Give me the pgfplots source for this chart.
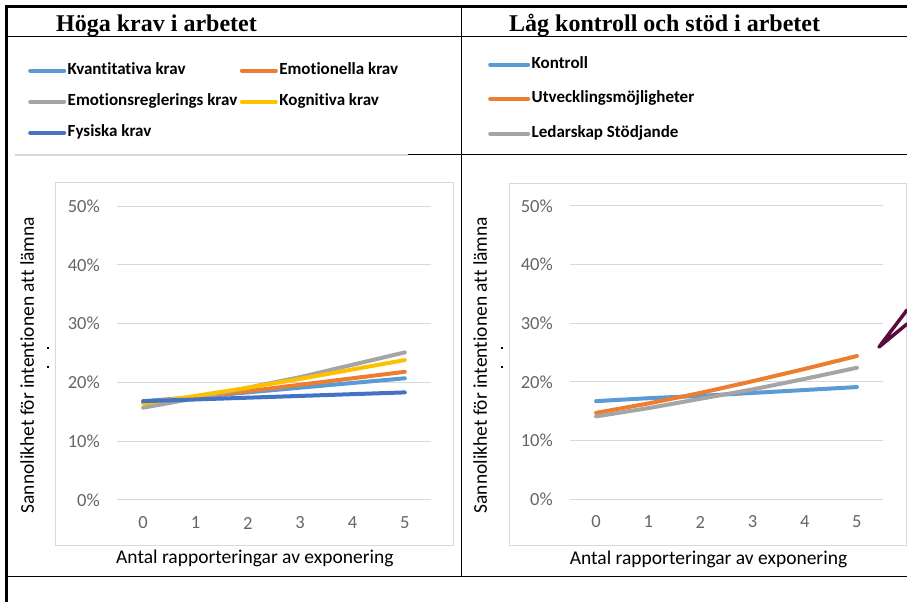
\documentclass[border=0pt]{standalone}
\usepackage{fontspec}
\setmainfont{Carlito}[Ligatures=NoCommon]
\newfontfamily\headfont{Liberation Serif}
\usepackage{pgfplots}
\pgfplotsset{compat=1.18}

\definecolor{xlblue}{HTML}{5B9BD5}
\definecolor{xlorange}{HTML}{ED7D31}
\definecolor{xlgray}{HTML}{A5A5A5}
\definecolor{xlyellow}{HTML}{FFC000}
\definecolor{xldblue}{HTML}{4472C4}
\definecolor{gridgray}{HTML}{D9D9D9}
\definecolor{ticktext}{HTML}{656565}
\definecolor{plum}{RGB}{92,12,58}

% Predicted probability (%) of intention to leave, by number of reported exposures
\pgfplotstableread{
x  kvant  emot  emreg  kogn  fys
0  16.8   16.5  15.7   16.4  16.8
1  17.5   17.5  17.3   17.7  17.1
2  18.3   18.5  19.1   19.1  17.4
3  19.1   19.6  20.9   20.6  17.7
4  19.9   20.7  23.0   22.2  18.0
5  20.7   21.8  25.1   23.8  18.3
}\hogakrav

\pgfplotstableread{
x  kontroll  utveckl  ledarskap
0  16.7      14.7     14.1
1  17.2      16.3     15.5
2  17.6      18.1     17.1
3  18.1      20.1     18.7
4  18.6      22.2     20.5
5  19.1      24.4     22.4
}\lagkontroll

\pgfplotsset{
  excelchart/.style={
    scale only axis,
    xmin=-0.5, xmax=5.5, ymin=0, ymax=50,
    xtick={0,...,5}, ytick={0,10,...,50},
    axis line style={draw=none},
    major tick length=0pt,
    ymajorgrids,
    grid style={gridgray, line width=1bp},
    /pgf/number format/assume math mode=true,
    tick label style={font=\fontsize{18.5bp}{21bp}\selectfont, text=ticktext, inner sep=0pt},
    xticklabel style={anchor=center, yshift=-23bp},
    yticklabel style={anchor=east, xshift=-17bp},
    yticklabel={\pgfmathprintnumber{\tick}\%},
    label style={font=\fontsize{19.5bp}{22bp}\selectfont},
    xlabel={Antal rapporteringar av exponering},
    ylabel={Sannolikhet för intentionen att lämna},
    every axis plot/.append style={line width=4bp, line cap=round, line join=round, mark=none},
    legend cell align=left,
    clip=false,
  },
}

\begin{document}
\begin{tikzpicture}
\path[use as bounding box] (0,0) rectangle (907bp,602bp);

% chart area frames
\begin{scope}[x=1bp,y=1bp]
  \draw[gridgray, line width=1bp] (55,56) rectangle (453,419);
  \draw[gridgray, line width=1bp] (509,56) rectangle (906,418);
\end{scope}

% left: high demands at work
\begin{axis}[excelchart,
  at={(117bp,102bp)}, anchor=south west,
  width=314bp, height=294bp,
  xlabel style={at={(axis description cs:0.439,-0.200)}, anchor=center},
  ylabel style={at={(axis description cs:-0.286,0.459)}, anchor=center, rotate=0},
  legend columns=2,
  legend image code/.code={\draw[#1, line width=4bp, line cap=round] (2bp,0bp) -- (36bp,0bp);},
  legend style={at={(axis description cs:-0.2834,1.4932)}, anchor=north west,
    draw=none, fill=none, inner sep=0pt, row sep=12bp,
    font=\bfseries\fontsize{17bp}{19bp}\selectfont,
    nodes={inner xsep=1.5bp, inner ysep=2bp, text height=11bp, text depth=4bp},
    /tikz/every even column/.append style={column sep=1bp}},
]
\addplot[xlblue]   table[x=x, y=kvant] {\hogakrav};
\addlegendentry{Kvantitativa krav}
\addplot[xlorange] table[x=x, y=emot]  {\hogakrav};
\addlegendentry{Emotionella krav}
\addplot[xlgray]   table[x=x, y=emreg] {\hogakrav};
\addlegendentry{Emotionsreglerings krav}
\addplot[xlyellow] table[x=x, y=kogn]  {\hogakrav};
\addlegendentry{Kognitiva krav}
\addplot[xldblue]  table[x=x, y=fys]   {\hogakrav};
\addlegendentry{Fysiska krav}
\end{axis}

% right: low control and support at work
\begin{axis}[excelchart,
  at={(570bp,103bp)}, anchor=south west,
  width=313bp, height=293bp,
  xlabel style={at={(axis description cs:0.4425,-0.2048)}, anchor=center},
  ylabel style={at={(axis description cs:-0.287,0.457)}, anchor=center, rotate=0},
  legend columns=1,
  legend image code/.code={\draw[#1, line width=4bp, line cap=round] (2bp,0bp) -- (40bp,0bp);},
  legend style={at={(axis description cs:-0.262,1.5154)}, anchor=north west,
    draw=none, fill=none, inner sep=0pt, row sep=15.5bp,
    font=\bfseries\fontsize{17bp}{19bp}\selectfont,
    nodes={inner xsep=1.5bp, inner ysep=2bp, text height=11bp, text depth=4bp}},
]
\addplot[xlblue]   table[x=x, y=kontroll]  {\lagkontroll};
\addlegendentry{Kontroll}
\addplot[xlorange] table[x=x, y=utveckl]   {\lagkontroll};
\addlegendentry{Utvecklingsmöjligheter}
\addplot[xlgray]   table[x=x, y=ledarskap] {\lagkontroll};
\addlegendentry{Ledarskap Stödjande}
\end{axis}

\begin{scope}[x=1bp,y=1bp]
  % headings
  \node[anchor=base west, inner sep=0pt, font=\headfont\bfseries\fontsize{24bp}{28bp}\selectfont] at (56,570) {Höga krav i arbetet};
  \node[anchor=base west, inner sep=0pt, font=\headfont\bfseries\fontsize{24bp}{28bp}\selectfont] at (509,570) {Låg kontroll och stöd i arbetet};
  % table rules
  \draw[black, line width=2.5bp] (5.5,595.5) -- (907,595.5);
  \draw[black, line width=2.5bp] (6.5,597) -- (6.5,0);
  \draw[black, line width=1bp] (7,565) -- (907,565);
  \draw[black, line width=1bp] (461,595) -- (461,25.5);
  \draw[gridgray, line width=1.5bp] (15,447) -- (408,447);
  \draw[black, line width=1bp] (408,447) -- (907,447);
  \draw[black, line width=1.2bp] (7,25.5) -- (907,25.5);
  % small marks beside the axis titles
  \fill[black] (47,253) rectangle (49,255);
  \fill[black] (47,234) rectangle (49,236);
  \fill[black] (501,253) rectangle (503,255);
  \fill[black] (501,234) rectangle (503,236);
  % pointer stroke at the right edge
  \draw[plum, line width=3.5bp, line cap=round, line join=round] (907,292) -- (879,255) -- (907,278);
\end{scope}
\end{tikzpicture}
\end{document}
